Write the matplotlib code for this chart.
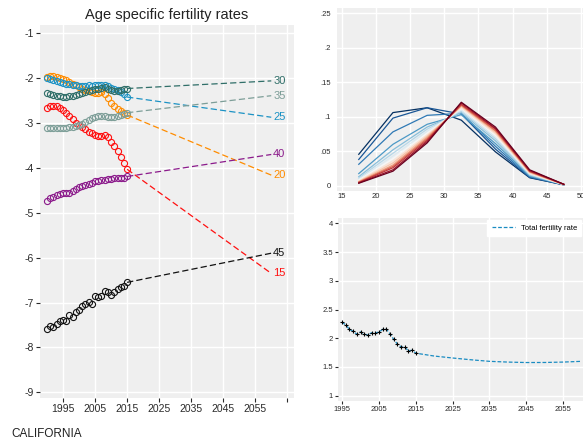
import numpy as np
import matplotlib
matplotlib.use("Agg")
import matplotlib.pyplot as plt

plt.rcParams['font.family'] = ['Liberation Sans', 'DejaVu Sans']
plt.rcParams['axes.unicode_minus'] = False

# observed log age specific fertility rates, 1990-2015
years = list(range(1990, 2016))
asfr_15 = [-2.67, -2.62, -2.62, -2.63, -2.66, -2.71, -2.77, -2.84, -2.92, -2.99, -3.04, -3.08, -3.14,
           -3.19, -3.23, -3.26, -3.28, -3.29, -3.26, -3.32, -3.42, -3.52, -3.62, -3.75, -3.90, -4.03]
asfr_20 = [-1.98, -1.96, -1.95, -1.97, -2.00, -2.02, -2.05, -2.08, -2.12, -2.16, -2.20, -2.23, -2.26,
           -2.29, -2.31, -2.32, -2.32, -2.31, -2.36, -2.45, -2.55, -2.63, -2.69, -2.74, -2.78, -2.82]
asfr_25 = [-2.00, -2.02, -2.04, -2.06, -2.08, -2.10, -2.12, -2.13, -2.15, -2.16, -2.17, -2.18, -2.17,
           -2.16, -2.17, -2.16, -2.15, -2.16, -2.16, -2.18, -2.21, -2.24, -2.27, -2.30, -2.35, -2.42]
asfr_30 = [-2.34, -2.36, -2.38, -2.39, -2.40, -2.41, -2.41, -2.40, -2.39, -2.37, -2.35, -2.33, -2.30,
           -2.28, -2.26, -2.24, -2.23, -2.21, -2.20, -2.23, -2.26, -2.28, -2.28, -2.26, -2.24, -2.23]
asfr_35 = [-3.12, -3.12, -3.11, -3.12, -3.11, -3.10, -3.10, -3.09, -3.08, -3.07, -3.05, -3.02, -2.98,
           -2.93, -2.89, -2.86, -2.84, -2.84, -2.85, -2.86, -2.86, -2.86, -2.85, -2.82, -2.79, -2.77]
asfr_40 = [-4.73, -4.68, -4.64, -4.60, -4.57, -4.55, -4.55, -4.56, -4.51, -4.47, -4.43, -4.40, -4.37,
           -4.36, -4.33, -4.30, -4.29, -4.27, -4.26, -4.25, -4.24, -4.23, -4.23, -4.22, -4.22, -4.19]
asfr_45 = [-7.59, -7.52, -7.54, -7.47, -7.42, -7.38, -7.41, -7.28, -7.32, -7.22, -7.17, -7.08, -7.04,
           -6.99, -7.03, -6.85, -6.87, -6.86, -6.74, -6.76, -6.83, -6.77, -6.70, -6.65, -6.63, -6.55]

# projected values at 2060
proj_year = 2060
proj_end = {'15': -6.35, '20': -4.16, '25': -2.87, '30': -2.06, '35': -2.39, '40': -3.70, '45': -5.90}

series = {'15': asfr_15, '20': asfr_20, '25': asfr_25, '30': asfr_30,
          '35': asfr_35, '40': asfr_40, '45': asfr_45}
colors = {'15': '#FF1010', '20': '#FF8C00', '25': '#1C92C4', '30': '#2F6E68',
          '35': '#7D9E98', '40': '#8B1A8B', '45': '#111111'}

# age schedules (top right), one row per period, blue = early, red = late
ages = [17.5, 22.5, 27.5, 32.5, 37.5, 42.5, 47.5]
schedules = [
    [0.0455, 0.106, 0.113, 0.095, 0.049, 0.0115, 0.0012],
    [0.038, 0.098, 0.113, 0.104, 0.053, 0.012, 0.0013],
    [0.031, 0.078, 0.102, 0.105, 0.057, 0.013, 0.0014],
    [0.0175, 0.060, 0.089, 0.103, 0.061, 0.014, 0.0015],
    [0.013, 0.052, 0.085, 0.106, 0.065, 0.015, 0.0015],
    [0.011, 0.047, 0.082, 0.108, 0.068, 0.016, 0.0016],
    [0.0095, 0.043, 0.079, 0.110, 0.071, 0.017, 0.0016],
    [0.008, 0.039, 0.076, 0.112, 0.073, 0.018, 0.0017],
    [0.007, 0.036, 0.074, 0.113, 0.075, 0.018, 0.0017],
    [0.006, 0.033, 0.072, 0.115, 0.077, 0.019, 0.0018],
    [0.0055, 0.030, 0.070, 0.116, 0.079, 0.020, 0.0018],
    [0.005, 0.028, 0.068, 0.117, 0.080, 0.0205, 0.0019],
    [0.0045, 0.026, 0.066, 0.118, 0.082, 0.021, 0.0019],
    [0.004, 0.023, 0.064, 0.120, 0.083, 0.022, 0.002],
    [0.0035, 0.021, 0.062, 0.121, 0.085, 0.023, 0.002],
]

# total fertility rate (bottom right)
tfr_years = list(range(1995, 2016))
tfr_obs = [2.28, 2.23, 2.155, 2.12, 2.07, 2.11, 2.07, 2.056, 2.095, 2.095, 2.105,
           2.155, 2.155, 2.08, 1.98, 1.90, 1.85, 1.845, 1.78, 1.79, 1.74]
tfr_proj_years = [2015, 2020, 2025, 2030, 2035, 2040, 2045, 2050, 2055, 2060]
tfr_proj = [1.74, 1.69, 1.656, 1.625, 1.598, 1.585, 1.577, 1.578, 1.585, 1.598]

panel_bg = '#EFEFEF'
tick_col = '#2A2A2A'

fig = plt.figure(figsize=(5.83, 4.46), dpi=100)


def style(ax, size, ticklen):
    ax.set_facecolor(panel_bg)
    for s in ax.spines.values():
        s.set_visible(False)
    ax.grid(True, color='white', linewidth=1.0)
    ax.set_axisbelow(True)
    ax.tick_params(labelsize=size, colors=tick_col, length=ticklen, width=0.8, pad=1.5)


# ---- left panel
ax1 = fig.add_axes([0.0686, 0.1076, 0.4357, 0.8363])
style(ax1, 7.5, 3)
for key, vals in series.items():
    c = colors[key]
    ax1.plot(years, vals, linestyle='none', marker='o', markersize=4.4,
             markerfacecolor='none', markeredgecolor=c, markeredgewidth=0.8)
    ax1.plot([years[-1], proj_year], [vals[-1], proj_end[key]], color=c,
             linestyle=(0, (5, 2.5)), linewidth=0.9)
    ax1.text(proj_year + 0.6, proj_end[key], key, color=c, fontsize=8, va='center', ha='left')
ax1.set_xlim(1987.8, 2067.1)
ax1.set_ylim(-9.127, -0.815)
ax1.set_xticks(range(1995, 2066, 10))
ax1.set_xticklabels([str(y) for y in range(1995, 2056, 10)] + [''])
ax1.set_yticks(range(-9, 0))
ax1.set_title('Age specific fertility rates', fontsize=10.5, color='#222222', pad=4)

fig.text(0.02, 0.02, 'CALIFORNIA', fontsize=8.5, color='#222222')

# ---- top right panel
ax2 = fig.add_axes([0.5775, 0.5724, 0.4225, 0.4097])
style(ax2, 5.5, 0)
cols = plt.cm.RdBu(np.linspace(1.0, 0.0, len(schedules)))
for row, c in zip(schedules, cols):
    ax2.plot(ages, row, color=c, linewidth=0.9)
ax2.set_xlim(14.27, 50.3)
ax2.set_ylim(-0.0073, 0.2577)
ax2.set_xticks(range(15, 51, 5))
ax2.set_yticks([0, 0.05, 0.1, 0.15, 0.2, 0.25])
ax2.set_yticklabels(['0', '.05', '.1', '.15', '.2', '.25'])
ax2.tick_params(axis='y', pad=4)

# ---- bottom right panel
ax3 = fig.add_axes([0.5792, 0.1016, 0.4208, 0.4089])
style(ax3, 5.5, 2)
ax3.plot(tfr_years + tfr_proj_years[1:], tfr_obs + tfr_proj[1:], color='#1A8CC2',
         linestyle=(0, (3, 1.5)), linewidth=0.9, label='Total fertility rate')
ax3.plot(tfr_years, tfr_obs, linestyle='none', marker='+', color='black',
         markersize=3.5, markeredgewidth=0.8)
ax3.set_xlim(1993.8, 2060.4)
ax3.set_ylim(0.913, 4.087)
ax3.set_xticks(range(1995, 2056, 10))
ax3.set_yticks([1, 1.5, 2, 2.5, 3, 3.5, 4])
ax3.set_yticklabels(['1', '1.5', '2', '2.5', '3', '3.5', '4'])
leg = ax3.legend(loc='upper right', fontsize=5.5, frameon=True, fancybox=False,
                 borderpad=0.6, handlelength=3, borderaxespad=0.2)
leg.get_frame().set_edgecolor('white')
leg.get_frame().set_facecolor('white')
leg.get_frame().set_alpha(1)

fig.savefig('out.png', dpi=100)
